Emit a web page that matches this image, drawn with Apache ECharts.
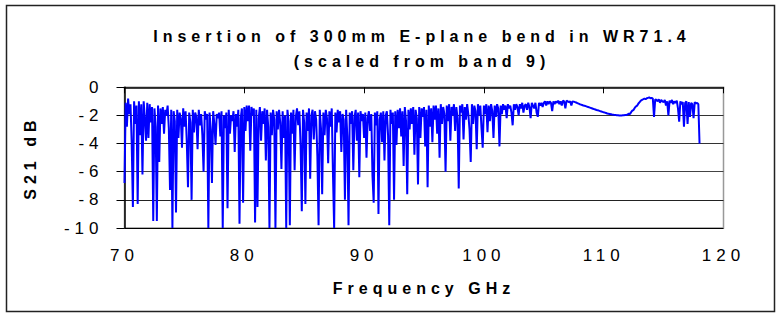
<!DOCTYPE html>
<html lang="en">
<head>
    <meta charset="UTF-8">
    <title>Insertion of 300mm E-plane bend in WR71.4</title>
    <style>
        html, body { margin: 0; padding: 0; background: #fff; }
        #main { width: 780px; height: 314px; }
        /* the original has wide letter spacing everywhere */
        #main text { letter-spacing: 5px; }
    </style>
</head>
<body>
<div id="main"></div>
<script src="https://cdn.jsdelivr.net/npm/echarts@6/dist/echarts.min.js"></script>
<script>
    // sampling grid of the sweep (GHz)
    var freqStart = 70;
    var freqStep = 0.1;

    // S21 (dB), one row per GHz
    var band70 = [
        -6.8, -1.1, -2.8, -0.8, -1.9, -1.2, -3.9, -8.5, -1.0, -2.6,
        -1.3, -8.3, -1.0, -3.4, -1.2, -6.2, -1.0, -2.2, -3.8, -1.1,
        -3.6, -1.2, -2.5, -1.4, -9.5, -1.5, -2.8, -9.5, -1.3, -5.3,
        -1.5, -2.6, -1.4, -3.3, -1.6, -2.0, -1.3, -2.9, -7.3, -1.6,
        -10, -1.7, -2.4, -8.9, -1.6, -3.6, -1.8, -2.2, -4.3, -1.5,
        -2.8, -1.7, -3.9, -7.1, -1.8, -2.5, -8.0, -1.6, -3.2, -1.8,
        -2.1, -4.4, -1.6, -2.7, -1.9, -3.4, -6.0, -1.7, -2.3, -1.9,
        -10, -1.8, -3.0, -6.8, -1.7, -2.6, -4.1, -1.9, -2.2, -1.8,
        -3.5, -1.7, -10, -2.0, -2.9, -1.8, -8.6, -1.6, -3.3, -2.0,
        -2.4, -1.7, -4.6, -1.9, -2.8, -1.6, -9.7, -2.2, -1.5, -8.2
    ];
    var band80 = [
        -1.4, -3.1, -1.3, -2.4, -1.3, -4.5, -1.4, -2.0, -1.5, -9.6,
        -1.6, -8.5, -2.2, -1.4, -3.8, -1.7, -2.6, -1.5, -5.2, -1.6,
        -2.8, -10, -1.8, -3.4, -1.6, -2.3, -10, -1.7, -3.0, -1.6,
        -2.5, -5.8, -1.7, -3.6, -2.0, -10, -1.6, -2.4, -9.8, -1.8,
        -3.3, -1.6, -5.9, -2.1, -1.5, -2.7, -1.7, -4.2, -8.8, -1.6,
        -2.5, -8.3, -1.8, -3.1, -1.5, -6.5, -2.0, -1.6, -3.7, -1.7,
        -2.3, -4.9, -9.8, -1.6, -2.9, -7.6, -1.8, -3.4, -1.6, -2.2,
        -5.4, -1.7, -2.8, -1.5, -6.1, -10, -1.8, -3.2, -1.6, -2.5,
        -1.7, -4.6, -1.9, -2.3, -8.0, -1.6, -3.5, -9.8, -1.8, -2.6,
        -1.7, -5.9, -2.1, -1.6, -3.8, -1.8, -6.4, -1.7, -2.4, -1.9
    ];
    var band90 = [
        -3.6, -1.8, -5.0, -2.2, -1.7, -3.1, -1.9, -6.3, -8.2, -1.8,
        -2.7, -1.7, -9.0, -2.3, -1.8, -3.9, -1.7, -5.2, -2.0, -1.7,
        -3.4, -9.8, -1.6, -2.6, -1.8, -8.0, -1.7, -4.1, -1.6, -2.9,
        -1.5, -3.5, -1.7, -5.6, -1.4, -2.4, -7.6, -1.6, -3.0, -1.5,
        -2.6, -1.4, -4.8, -1.6, -2.2, -6.9, -1.4, -3.6, -1.5, -2.1,
        -1.4, -4.2, -1.6, -7.1, -1.3, -2.8, -1.5, -3.9, -1.3, -2.3,
        -1.3, -3.3, -1.5, -5.0, -1.2, -2.6, -1.4, -1.9, -6.0, -1.3,
        -2.4, -1.2, -3.8, -1.4, -2.0, -1.2, -3.1, -1.4, -2.2, -7.2,
        -1.3, -1.8, -1.2, -3.7, -1.4, -2.3, -1.2, -1.9, -3.0, -5.3,
        -1.2, -2.6, -1.3, -1.7, -4.4, -1.2, -2.0, -1.3, -2.9, -4.3
    ];
    var band100 = [
        -1.3, -1.9, -1.2, -3.2, -1.3, -2.4, -1.2, -1.7, -3.6, -1.3,
        -2.1, -1.2, -1.5, -4.2, -1.3, -1.9, -1.2, -1.6, -1.3, -2.2,
        -1.2, -1.5, -1.3, -1.8, -2.7, -1.2, -1.6, -1.2, -1.4, -2.0,
        -1.2, -1.5, -1.1, -1.8, -1.3, -1.2, -1.6, -1.1, -1.4, -2.2,
        -1.1, -1.3, -1.5, -1.1, -1.8, -2.1, -1.1, -1.3, -1.1, -1.4,
        -1.1, -1.0, -1.3, -1.0, -1.2, -1.0, -1.1, -1.7, -1.0, -1.2,
        -1.0, -1.1, -0.95, -1.2, -1.0, -1.3, -0.95, -1.0, -1.5, -0.95,
        -1.0, -1.05, -1.0, -1.3, -1.0, -1.02, -1.05, -1.08, -1.12, -1.16,
        -1.2, -1.23, -1.26, -1.29, -1.31, -1.34, -1.37, -1.40, -1.43, -1.46,
        -1.49, -1.52, -1.55, -1.58, -1.61, -1.63, -1.66, -1.69, -1.72, -1.75
    ];
    var band110 = [
        -1.78, -1.8, -1.83, -1.86, -1.88, -1.9, -1.92, -1.94, -1.95, -1.96,
        -1.97, -1.98, -1.99, -2.0, -2.01, -2.0, -1.99, -1.98, -1.96, -1.97,
        -1.92, -1.88, -1.9, -1.75, -1.65, -1.6, -1.45, -1.35, -1.3, -1.15,
        -1.05, -0.95, -0.9, -0.85, -0.8, -0.85, -0.78, -0.75, -0.72, -0.78,
        -0.75, -0.8, -2.1, -0.85, -0.9, -1.0, -0.85, -1.1, -0.9, -1.0,
        -1.05, -0.9, -1.3, -1.0, -2.0, -0.95, -1.1, -0.9, -1.2, -1.0,
        -1.1, -0.95, -1.5, -2.45, -1.0, -1.2, -1.05, -2.8, -1.1, -1.0,
        -2.6, -1.05, -2.1, -1.1, -1.2, -2.2, -1.05, -1.15, -1.1, -1.2,
        -4.0
    ];

    var s21 = band70.concat(band80, band90, band100, band110);
    var points = s21.map(function (v, i) {
        return [Math.round((freqStart + i * freqStep) * 10) / 10, v];
    });

    var myChart = echarts.init(document.getElementById('main'), null, {renderer: 'svg'});
    var font = 'Liberation Sans, Arial, sans-serif';

    option = {
        animation: false,
        backgroundColor: '#fff',
        title: {
            text: 'Insertion of 300mm E-plane bend in WR71.4\n(scaled from band 9)',
            left: 417,
            textAlign: 'center',
            top: 19,
            textStyle: {
                fontFamily: font,
                fontSize: 16,
                fontWeight: 'bold',
                color: '#000',
                lineHeight: 25
            }
        },
        graphic: [{
            type: 'rect',
            shape: {x: 6.5, y: 5.5, width: 768, height: 306},
            style: {fill: 'none', stroke: '#222', lineWidth: 1.5},
            silent: true
        }],
        grid: {
            left: 124.5,
            right: 56.5,
            top: 87.3,
            bottom: 86,
            show: true,
            borderColor: '#999',
            borderWidth: 1.5
        },
        xAxis: {
            type: 'value',
            min: 70,
            max: 120,
            interval: 10,
            name: 'Frequency GHz',
            nameLocation: 'middle',
            nameGap: 52,
            nameTextStyle: {fontFamily: font, fontSize: 16, fontWeight: 'bold', color: '#000'},
            axisLine: {lineStyle: {color: '#000', width: 1.5}},
            axisTick: {show: true, length: 6, lineStyle: {color: '#000'}},
            axisLabel: {fontFamily: font, fontSize: 17, color: '#000', margin: 19},
            splitLine: {show: false}
        },
        yAxis: {
            type: 'value',
            min: -10,
            max: 0,
            interval: 2,
            name: 'S21 dB',
            nameLocation: 'middle',
            nameGap: 86,
            nameTextStyle: {fontFamily: font, fontSize: 16, fontWeight: 'bold', color: '#000'},
            axisLine: {show: true, lineStyle: {color: '#000', width: 1.5}},
            axisTick: {show: true, length: 8, lineStyle: {color: '#000'}},
            axisLabel: {fontFamily: font, fontSize: 17, color: '#000', margin: 21},
            splitLine: {show: true, lineStyle: {color: ['#000', '#222', '#444', '#333', '#333', '#999'], width: 1.2}}
        },
        series: [{
            name: 'S21',
            type: 'line',
            data: points,
            showSymbol: false,
            lineStyle: {color: '#0000ff', width: 2},
            itemStyle: {color: '#0000ff'}
        }]
    };

    if (option && typeof option === "object") {
        myChart.setOption(option, true);
    }
</script>
</body>
</html>
